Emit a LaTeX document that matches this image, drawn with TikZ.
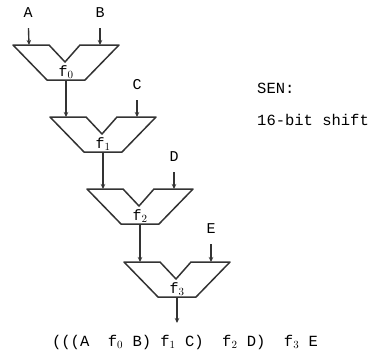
\documentclass[tikz,border=0pt]{standalone}
\usepackage{fontspec}
\setmainfont{Liberation Mono}
\usetikzlibrary{arrows.meta}
\begin{document}
\begin{tikzpicture}[x=1pt,y=-1pt,
    alu/.style={draw=black!80,line width=1.5pt,line join=round},
    flow/.style={draw=black!80,line width=1.4pt,-{Stealth[length=5pt,width=4.5pt]}},
    inarrow/.style={flow,shorten <=9pt},
    inlabel/.style={inner sep=1pt,font=\fontsize{15}{18}\selectfont},
    fname/.style={anchor=south,inner sep=1pt,font=\fontsize{15}{18}\selectfont},
    note/.style={anchor=west,inner sep=0pt,font=\fontsize{15.5}{18}\selectfont}]
  \useasboundingbox (0,0) rectangle (387,353);
  % four ALUs, each one step down and to the right
  \draw[alu] (13,45) -- (49,45) -- (65,62) -- (80,45) -- (119,45) -- (85,80) -- (47,80) -- cycle;
  \draw[alu] (50,117) -- (86,117) -- (102,134) -- (117,117) -- (156,117) -- (122,152) -- (84,152) -- cycle;
  \draw[alu] (87,189) -- (123,189) -- (139,206) -- (154,189) -- (193,189) -- (159,224) -- (121,224) -- cycle;
  \draw[alu] (124,262) -- (160,262) -- (176,279) -- (191,262) -- (230,262) -- (196,297) -- (158,297) -- cycle;
  \coordinate (l0) at (29,45);
  \coordinate (r0) at (100,45);
  \coordinate (o0) at (66,80);
  \coordinate (l1) at (66,117);
  \coordinate (r1) at (137,117);
  \coordinate (o1) at (103,152);
  \coordinate (l2) at (103,189);
  \coordinate (r2) at (174,189);
  \coordinate (o2) at (140,224);
  \coordinate (l3) at (140,262);
  \coordinate (r3) at (211,262);
  \coordinate (o3) at (177,297);
  \coordinate (out) at (177,323);
  % operands
  \node[inlabel] (A) at (28,13) {A};
  \node[inlabel] (B) at (100,13) {B};
  \node[inlabel] (C) at (137,85) {C};
  \node[inlabel] (D) at (174,157) {D};
  \node[inlabel] (E) at (211,229) {E};
  % function names
  \node[fname] (f0) at (o0) {f$_0$};
  \node[fname] (f1) at (o1) {f$_1$};
  \node[fname] (f2) at (o2) {f$_2$};
  \node[fname] (f3) at (o3) {f$_3$};
  \begin{scope}
    \draw[inarrow] (A) -- (l0);
    \draw[inarrow] (B) -- (r0);
    \draw[inarrow] (C) -- (r1);
    \draw[inarrow] (D) -- (r2);
    \draw[inarrow] (E) -- (r3);
    \draw[flow] (o0) -- (l1);
    \draw[flow] (o1) -- (l2);
    \draw[flow] (o2) -- (l3);
    \draw[flow] (o3) -- (out);
  \end{scope}
  \node[note] (sen) at (257,88) {SEN:};
  \node[note] (shift) at (257,120) {16-bit shift};
  \node[inner sep=0pt,font=\fontsize{15.5}{18}\selectfont] (expr) at (185,342)
    {(((A~~f$_0$~B)~f$_1$~C)~~f$_2$~D)~~f$_3$~E};
\end{tikzpicture}
\end{document}
